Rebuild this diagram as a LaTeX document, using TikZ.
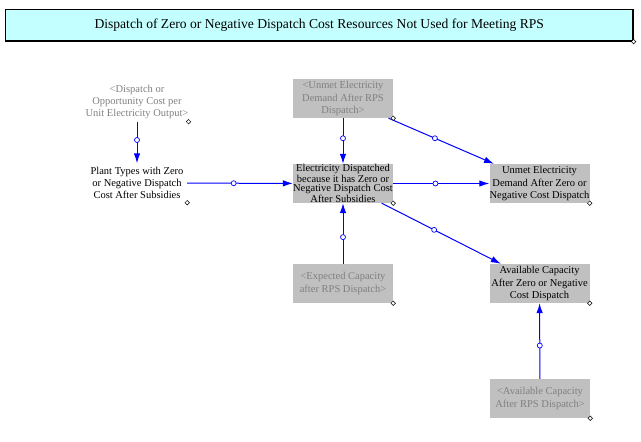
\documentclass[tikz,border=0pt]{standalone}
\usepackage{fontspec}
\setmainfont{Liberation Serif}
\usetikzlibrary{arrows.meta}
\definecolor{titlecyan}{RGB}{196,255,255}
\definecolor{boxgray}{RGB}{192,192,192}
\definecolor{shadowtext}{RGB}{128,128,128}
\begin{document}
\begin{tikzpicture}[
  var/.style={rectangle,minimum width=100bp,minimum height=39bp,inner sep=0pt,align=center,font=\fontsize{10.5bp}{12.2bp}\selectfont},
  box/.style={var,fill=boxgray},
  shadow/.style={text=shadowtext},
  titlebox/.style={rectangle,draw=black,line width=1.3bp,fill=titlecyan,minimum width=627.5bp,minimum height=31.5bp,inner sep=0pt,font=\fontsize{13.6bp}{15bp}\selectfont},
  handle/.style={rectangle,rotate=45,draw=black,fill=white,line width=0.5bp,minimum size=3.2bp,inner sep=0pt},
  flow/.style={blue,line width=1bp,-{Latex[length=10bp,width=6.5bp]}},
  dot/.style={circle,draw=blue,fill=white,line width=0.7bp,minimum size=5bp,inner sep=0pt,pos=0.44}]
  \useasboundingbox (0bp,0bp) rectangle (641bp,-442bp);
  \node (title) at (319.25bp,-25.25bp) [titlebox] {Dispatch of Zero or Negative Dispatch Cost Resources Not Used for Meeting RPS};
  \node (DispCost) at (137bp,-102bp) [var,shadow] {<Dispatch or\\Opportunity Cost per\\Unit Electricity Output>};
  \node (PlantTypes) at (137bp,-183bp) [var] {Plant Types with Zero\\or Negative Dispatch\\Cost After Subsidies};
  \node (UnmetRPS) at (343bp,-98.5bp) [box,shadow] {<Unmet Electricity\\Demand After RPS\\Dispatch>};
  \node (ElecDisp) at (343bp,-183.5bp) [box,font=\fontsize{10.5bp}{9bp}\selectfont] {Electricity Dispatched\\because it has Zero or\\Negative Dispatch Cost\\After Subsidies};
  \node (UnmetZero) at (539.5bp,-183.5bp) [box] {Unmet Electricity\\Demand After Zero or\\Negative Cost Dispatch};
  \node (ExpCap) at (343bp,-283.5bp) [box,shadow] {<Expected Capacity\\after RPS Dispatch>};
  \node (AvailZero) at (539.5bp,-283.5bp) [box] {Available Capacity\\After Zero or Negative\\Cost Dispatch};
  \node (AvailRPS) at (540bp,-398.5bp) [box,shadow] {<Available Capacity\\After RPS Dispatch>};
  \draw [flow] (DispCost) -- node[dot] {} (PlantTypes);
  \draw [flow] (PlantTypes) -- node[dot] {} (ElecDisp);
  \draw [flow] (UnmetRPS) -- node[dot] {} (ElecDisp);
  \draw [flow] (UnmetRPS) -- node[dot] {} (UnmetZero);
  \draw [flow] (ElecDisp) -- node[dot] {} (UnmetZero);
  \draw [flow] (ElecDisp) -- node[dot] {} (AvailZero);
  \draw [flow] (ExpCap) -- node[dot] {} (ElecDisp);
  \draw [flow] (AvailRPS) -- node[dot] {} (AvailZero);
  \foreach \n in {title,DispCost,PlantTypes,UnmetRPS,ElecDisp,UnmetZero,ExpCap,AvailZero,AvailRPS}
    \node [handle] at (\n.south east) {};
\end{tikzpicture}
\end{document}
